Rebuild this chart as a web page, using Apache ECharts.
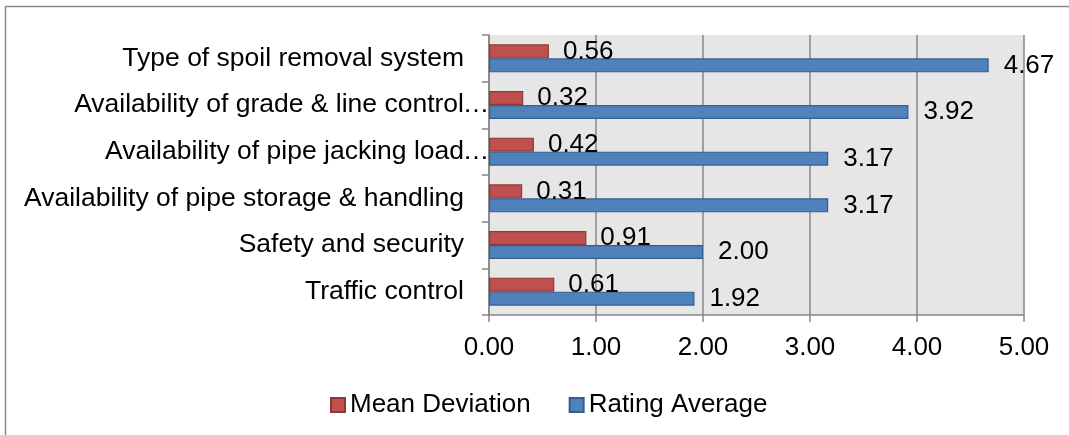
<!DOCTYPE html>
<html>
<head>
<meta charset="utf-8">
<script src="https://cdn.jsdelivr.net/npm/echarts@6/dist/echarts.min.js"></script>
<style>
  html, body { margin: 0; padding: 0; background: #ffffff; }
  #chart { width: 1069px; height: 435px; }
</style>
</head>
<body>
<div id="chart"></div>
<script>
// Categories listed top to bottom, as they read on the chart
const categories = [
  'Type of spoil removal system',
  'Availability of grade & line control…',
  'Availability of pipe jacking load…',
  'Availability of pipe storage & handling',
  'Safety and security',
  'Traffic control'
];
const meanDeviation = [0.56, 0.32, 0.42, 0.31, 0.91, 0.61];
const ratingAverage = [4.67, 3.92, 3.17, 3.17, 2.00, 1.92];
const xTicks = [0, 1, 2, 3, 4, 5];

const FONT = '"Liberation Sans", Arial, sans-serif';
const FS = 26;
const CAT_FS = 26.5;
const GRID_GRAY = '#878787';

// Long names keep their trailing ellipsis outside the right-aligned text block:
// every label ends in a fixed-width slot, filled by "…" or left blank.
function categoryLabel(name) {
  if (name.endsWith('…')) {
    return '{t|' + name.slice(0, -1) + '}{e|…}';
  }
  return '{t|' + name + '}{s| }';
}

const chart = echarts.init(document.getElementById('chart'), null, { renderer: 'canvas' });

chart.setOption({
  animation: false,
  backgroundColor: '#ffffff',
  textStyle: { fontFamily: FONT },
  graphic: [{
    type: 'rect',
    shape: { x: 5.5, y: 6.5, width: 1200, height: 600 },
    style: { fill: 'none', stroke: '#8a8a8a', lineWidth: 1.5 },
    silent: true
  }],
  grid: {
    left: 489, right: 45, top: 35, bottom: 120,
    show: true, backgroundColor: '#e6e6e6', borderWidth: 0
  },
  legend: {
    left: 325, top: 387,
    itemWidth: 14, itemHeight: 14, itemGap: 38,
    icon: 'rect',
    textStyle: { fontFamily: FONT, fontSize: FS, color: '#000' },
    data: ['Mean Deviation', 'Rating Average']
  },
  xAxis: {
    type: 'value',
    min: xTicks[0], max: xTicks[xTicks.length - 1], interval: 1,
    axisLine: { show: true, lineStyle: { color: GRID_GRAY, width: 1.5 } },
    axisTick: { show: true, length: 7, lineStyle: { color: GRID_GRAY, width: 1.5 } },
    splitLine: { show: true, lineStyle: { color: GRID_GRAY, width: 1.5 } },
    axisLabel: {
      margin: 20, fontFamily: FONT, fontSize: FS, color: '#000',
      formatter: v => v.toFixed(2)
    }
  },
  yAxis: {
    type: 'category',
    inverse: true,
    data: categories,
    axisLine: { show: true, lineStyle: { color: GRID_GRAY, width: 1.5 } },
    axisTick: { show: true, length: 7, lineStyle: { color: GRID_GRAY, width: 1.5 } },
    axisLabel: {
      margin: 1, color: '#000', fontFamily: FONT, fontSize: CAT_FS,
      formatter: categoryLabel,
      rich: {
        t: { fontFamily: FONT, fontSize: CAT_FS, color: '#000' },
        e: { fontFamily: FONT, fontSize: CAT_FS, color: '#000', width: 24, align: 'left' },
        s: { fontFamily: FONT, fontSize: CAT_FS, color: '#000', width: 24 }
      }
    }
  },
  series: [
    {
      name: 'Mean Deviation',
      type: 'bar',
      data: meanDeviation,
      barWidth: 14,
      barGap: '0%',
      itemStyle: { color: '#C0504D', borderColor: '#8C3A38', borderWidth: 1.2 },
      label: {
        show: true, position: 'right', distance: 14,
        fontFamily: FONT, fontSize: FS, color: '#000',
        formatter: p => p.value.toFixed(2)
      }
    },
    {
      name: 'Rating Average',
      type: 'bar',
      data: ratingAverage,
      barWidth: 14,
      barGap: '0%',
      itemStyle: { color: '#4F81BD', borderColor: '#385D8A', borderWidth: 1.2 },
      label: {
        show: true, position: 'right', distance: 15,
        fontFamily: FONT, fontSize: FS, color: '#000',
        formatter: p => p.value.toFixed(2)
      }
    }
  ]
});
</script>
</body>
</html>
